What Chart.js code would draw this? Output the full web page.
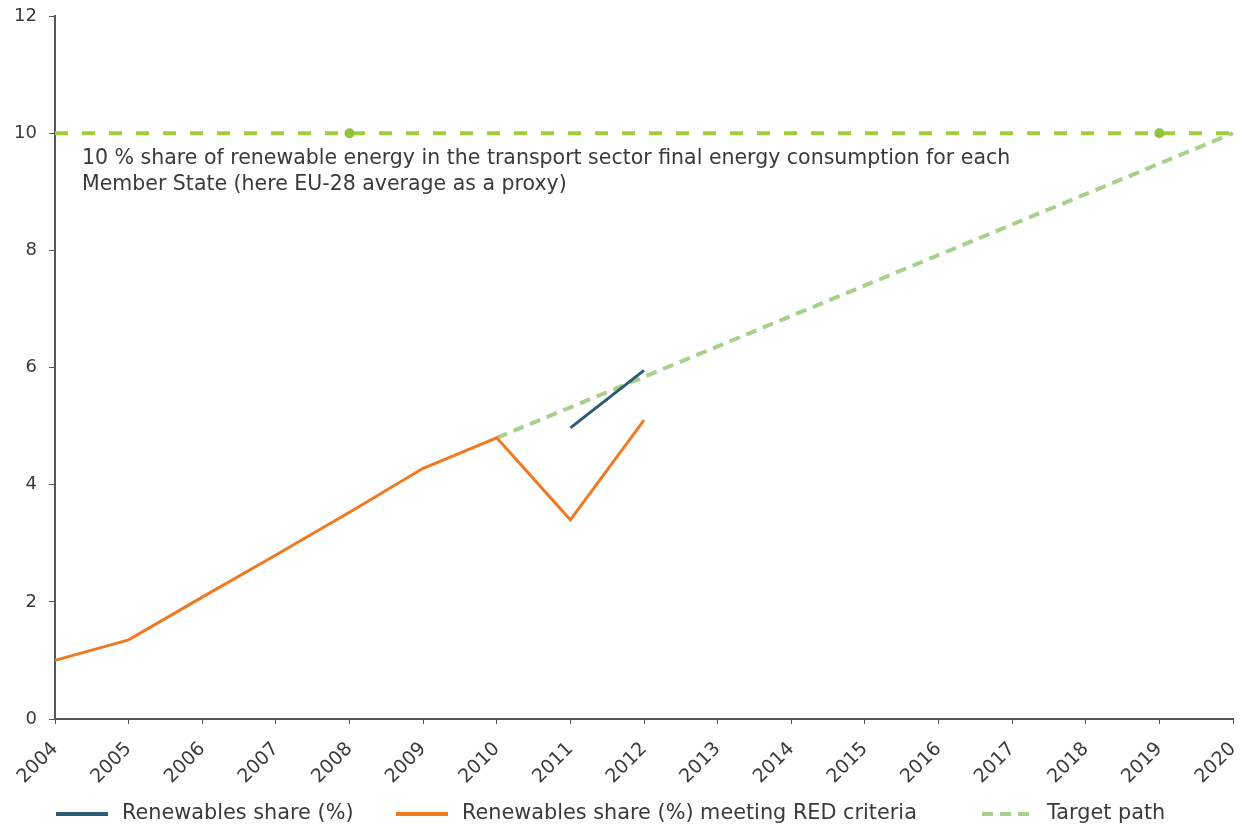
<!DOCTYPE html>
<html>
<head>
<meta charset="utf-8">
<script src="https://cdn.jsdelivr.net/npm/chart.js@4.4.1/dist/chart.umd.min.js"></script>
<style>
  html, body { margin: 0; padding: 0; background: #fff; }
  #wrap { width: 1241px; height: 826px; }
</style>
</head>
<body>
<div id="wrap"><canvas id="chart" width="1241" height="826"></canvas></div>
<script>
// Data
const years = ['2004', '2005', '2006', '2007', '2008', '2009', '2010', '2011', '2012',
               '2013', '2014', '2015', '2016', '2017', '2018', '2019', '2020'];
const renewablesShare = [null, null, null, null, null, null, null, 4.97, 5.95,
                         null, null, null, null, null, null, null, null];
const redShare = [1.0, 1.35, 2.08, 2.8, 3.53, 4.28, 4.8, 3.4, 5.1,
                  null, null, null, null, null, null, null, null];
const targetPath = [null, null, null, null, null, null, 4.8, null, null,
                    null, null, null, null, null, null, null, 10];
const targetShare = [10, 10, 10, 10, 10, 10, 10, 10, 10, 10, 10, 10, 10, 10, 10, 10, 10];
const yTicks = [0, 2, 4, 6, 8, 10, 12];
const noteLines = [
  '10 % share of renewable energy in the transport sector final energy consumption for each',
  'Member State (here EU-28 average as a proxy)'
];

const FONT = '"DejaVu Sans", Verdana, sans-serif';
const TEXT = '#3a3a3a';
const AXIS = '#555555';

// Annotation under the 10 % line
const notePlugin = {
  id: 'note',
  afterDatasetsDraw(chart) {
    const { ctx, chartArea, scales } = chart;
    const y10 = scales.y.getPixelForValue(10);
    ctx.save();
    ctx.font = '20.5px ' + FONT;
    ctx.fillStyle = TEXT;
    ctx.textBaseline = 'middle';
    ctx.fillText(noteLines[0], chartArea.left + 27, y10 + 26);
    ctx.fillText(noteLines[1], chartArea.left + 27, y10 + 52);
    ctx.restore();
  }
};

// Bottom legend with hand-placed items
const legendPlugin = {
  id: 'bottomLegend',
  afterDraw(chart) {
    const { ctx } = chart;
    const items = [
      { ds: 0, x1: 56, x2: 108, tx: 122 },
      { ds: 1, x1: 396, x2: 448, tx: 462 },
      { ds: 2, x1: 982, x2: 1030, tx: 1047 }
    ];
    const y = 814;
    ctx.save();
    items.forEach(it => {
      const d = chart.data.datasets[it.ds];
      ctx.strokeStyle = d.borderColor;
      ctx.lineWidth = 4;
      ctx.setLineDash(d.borderDash || []);
      ctx.beginPath();
      ctx.moveTo(it.x1, y);
      ctx.lineTo(it.x2, y);
      ctx.stroke();
      ctx.setLineDash([]);
      ctx.font = '20.8px ' + FONT;
      ctx.fillStyle = TEXT;
      ctx.textBaseline = 'middle';
      ctx.fillText(d.label, it.tx, y);
    });
    ctx.restore();
  }
};

new Chart(document.getElementById('chart'), {
  type: 'line',
  data: {
    labels: years,
    datasets: [
      {
        label: 'Renewables share (%)',
        data: renewablesShare,
        borderColor: '#2e5b74',
        borderWidth: 3,
        pointRadius: 0,
        order: 1
      },
      {
        label: 'Renewables share (%) meeting RED criteria',
        data: redShare,
        borderColor: '#f07a22',
        borderWidth: 3,
        pointRadius: 0,
        order: 2
      },
      {
        label: 'Target path',
        data: targetPath,
        borderColor: '#a8d08d',
        borderWidth: 4,
        borderDash: [11, 7],
        pointRadius: 0,
        spanGaps: true,
        order: 3
      },
      {
        label: '10 % target',
        data: targetShare,
        borderColor: '#a2cd3a',
        backgroundColor: '#8fc43a',
        borderWidth: 4,
        borderDash: [13, 14],
        pointRadius: years.map(y => (y === '2008' || y === '2019') ? 5 : 0),
        pointBorderWidth: 0,
        order: 4
      }
    ]
  },
  options: {
    responsive: false,
    animation: false,
    layout: { padding: { top: 16, right: 8, bottom: 35, left: 0 } },
    plugins: {
      legend: { display: false },
      tooltip: { enabled: false }
    },
    scales: {
      x: {
        offset: false,
        grid: { drawOnChartArea: false, drawTicks: true, tickLength: 5, color: AXIS },
        border: { display: true, color: AXIS, width: 2 },
        ticks: {
          color: TEXT,
          font: { family: FONT, size: 19 },
          maxRotation: 45,
          minRotation: 45,
          autoSkip: false,
          padding: 14
        },
        afterFit(scale) {
          scale.height = 72;
          scale.paddingRight = 0;
          scale.paddingTop = 0;
        }
      },
      y: {
        min: 0,
        max: 12,
        afterBuildTicks(scale) { scale.ticks = yTicks.map(v => ({ value: v })); },
        grid: { drawOnChartArea: false, drawTicks: true, tickLength: 6, color: AXIS },
        border: { display: true, color: AXIS, width: 2 },
        ticks: {
          color: TEXT,
          font: { family: FONT, size: 18 },
          padding: 12
        },
        afterFit(scale) {
          scale.width = 55;
          scale.paddingTop = 0;
        }
      }
    }
  },
  plugins: [notePlugin, legendPlugin]
});
</script>
</body>
</html>
